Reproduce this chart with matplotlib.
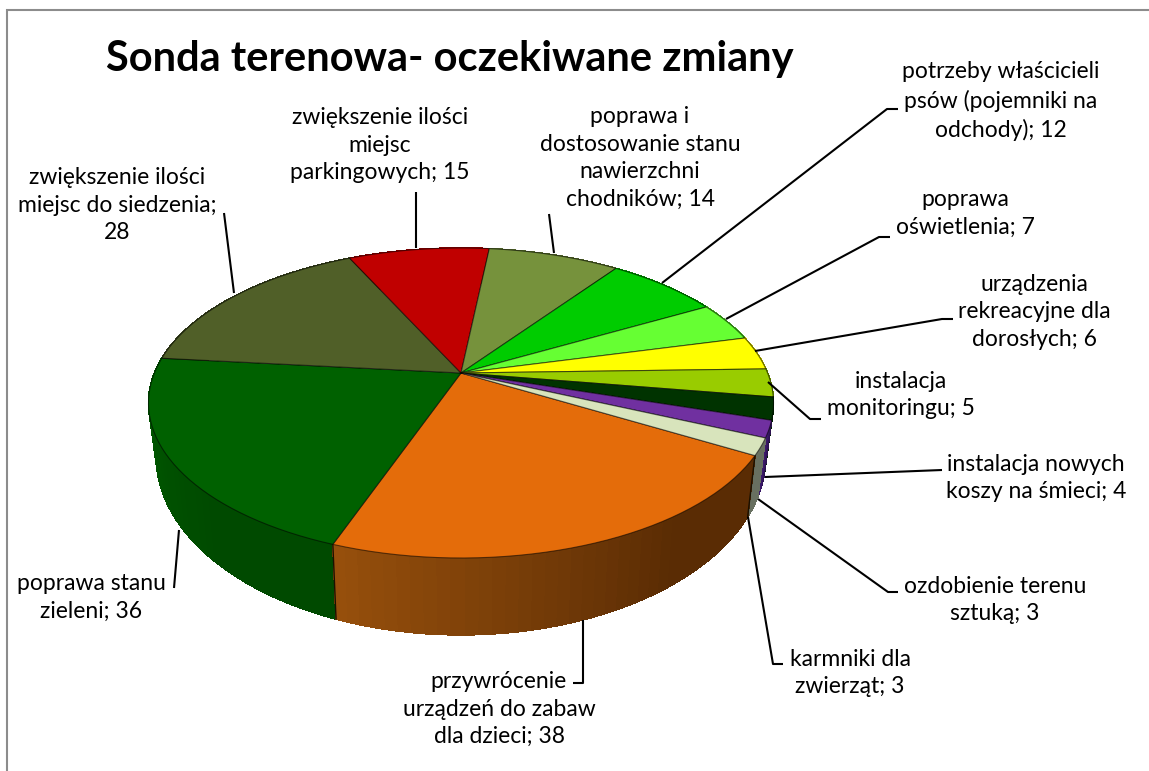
import numpy as np
import matplotlib
matplotlib.use("Agg")
import matplotlib.pyplot as plt
from matplotlib.collections import PolyCollection
from matplotlib.colors import to_rgb

plt.rcParams['font.family'] = ['Lato', 'DejaVu Sans']

title = "Sonda terenowa- oczekiwane zmiany"
# kolejnosc zgodnie z ruchem wskazowek zegara, od prawej strony pomaranczowego
names = ["przywrócenie\nurządzeń do zabaw\ndla dzieci",
         "poprawa stanu\nzieleni",
         "zwiększenie ilości\nmiejsc do siedzenia;\n",
         "zwiększenie ilości\nmiejsc\nparkingowych",
         "poprawa i\ndostosowanie stanu\nnawierzchni\nchodników",
         "potrzeby właścicieli\npsów (pojemniki na\nodchody)",
         "poprawa\noświetlenia",
         "urządzenia\nrekreacyjne dla\ndorosłych",
         "instalacja\nmonitoringu",
         "instalacja nowych\nkoszy na śmieci",
         "ozdobienie terenu\nsztuką",
         "karmniki dla\nzwierząt"]
values = [38, 36, 28, 15, 14, 12, 7, 6, 5, 4, 3, 3]
top_colors = ["#E46C0A", "#006100", "#505F28", "#C00000", "#76923C", "#00CC00",
              "#66FF33", "#FFFF00", "#99CC00", "#003300", "#7030A0", "#D8E4BC"]
wall_left = ["#964F0C", "#005E00", "#3C4720", "#900000", "#586D2D", "#009900",
             "#4CBF26", "#BFBF00", "#739900", "#002600", "#3E1A6E", "#687060"]
wall_right = ["#5A2C04", "#004A00", "#3C4720", "#900000", "#586D2D", "#009900",
              "#4CBF26", "#BFBF00", "#739900", "#002600", "#2C1250", "#687060"]

# etykiety: srodek tekstu w pikselach
label_xy = [(499, 709), (91, 597), (117, 205), (380, 145), (640, 158), (1001, 101),
            (965, 213), (1034, 312), (901, 395), (1036, 478), (995, 600), (850, 673)]
# linie odniesienia w pikselach
leaders = [[(583, 620), (583, 683), (573, 683)],
           [(179, 530), (174, 588)],
           [(234, 293), (224, 213)],
           [(416, 248), (416, 192)],
           [(554, 253), (549, 214)],
           [(662, 283), (887, 109), (898, 109)],
           [(726, 319), (879, 237), (890, 237)],
           [(755, 351), (942, 319), (953, 319)],
           [(768, 382), (810, 419), (821, 419)],
           [(765, 477), (942, 470)],
           [(758, 499), (888, 592), (898, 592)],
           [(748, 517), (773, 664), (783, 664)]]

W, H_PX = 1149, 771
cx, cy = 461, 373
R, H, k = 306.6, 149.2, 0.1935
start = -30.0
depth = 50
shrink = 0.975


def top_point(t):
    f = 1 / (1 + k * np.sin(t))
    return cx + R * np.cos(t) * f, cy - H * np.sin(t) * f


def bottom_point(t):
    x, y = top_point(t)
    f = 1 / (1 + k * np.sin(t))
    return cx + (x - cx) * shrink, y + depth * f ** 2


fig = plt.figure(figsize=(W / 100, H_PX / 100), dpi=100)
ax = fig.add_axes([0, 0, 1, 1])
ax.set_xlim(0, W)
ax.set_ylim(H_PX, 0)
ax.axis('off')

# ramka wykresu
ax.plot([7, 7, W], [H_PX, 10, 10], color="#8C8C8C", lw=1.5, solid_joinstyle='miter')

edges = start - np.cumsum([0] + values) / sum(values) * 360
quads, quad_colors, quad_depth = [], [], []
tops = []
for i in range(len(values)):
    ts = np.radians(np.linspace(edges[i], edges[i + 1], 40))
    left = np.array(to_rgb(wall_left[i]))
    right = np.array(to_rgb(wall_right[i]))
    for j in range(len(ts) - 1):
        a, b = ts[j], ts[j + 1]
        quads.append([top_point(a), top_point(b), bottom_point(b), bottom_point(a)])
        mix = np.clip((j / (len(ts) - 2) - 0.3) / 0.7, 0, 1)
        quad_colors.append(right + (left - right) * mix)
        quad_depth.append(np.sin((a + b) / 2))
    tops.append([(cx, cy)] + [top_point(t) for t in ts])

order = np.argsort(quad_depth)[::-1]
walls = PolyCollection([quads[i] for i in order], facecolors=[quad_colors[i] for i in order],
                       edgecolors=[quad_colors[i] for i in order], linewidths=0.5,
                       antialiaseds=False, zorder=2)
ax.add_collection(walls)

# krawedzie miedzy scianami
for i in range(len(values)):
    t = np.radians(edges[i])
    if np.sin(t) < 0 and i in (0, 1):
        p, q = top_point(t), bottom_point(t)
        ax.plot([p[0], q[0]], [p[1], q[1]], color="#1A1000", lw=1, zorder=3)

for i, poly in enumerate(tops):
    ax.add_patch(plt.Polygon(poly, closed=True, facecolor=top_colors[i],
                             edgecolor=(0, 0, 0, 0.55), lw=0.8, zorder=4))

for line in leaders:
    ax.plot([p[0] for p in line], [p[1] for p in line], color="black", lw=1.5, zorder=5,
            solid_capstyle='butt')

for name, val, (x, y) in zip(names, values, label_xy):
    if name.endswith(";\n"):
        s = name + str(val)
    else:
        s = name + "; " + str(val)
    ax.text(x, y, s, ha='center', va='center', fontsize=16.5, linespacing=1.4, color="black", zorder=6)

ax.text(450, 59, title, ha='center', va='center', fontsize=30, fontweight='bold', color="black", zorder=6)

fig.savefig("out.png", dpi=100)
